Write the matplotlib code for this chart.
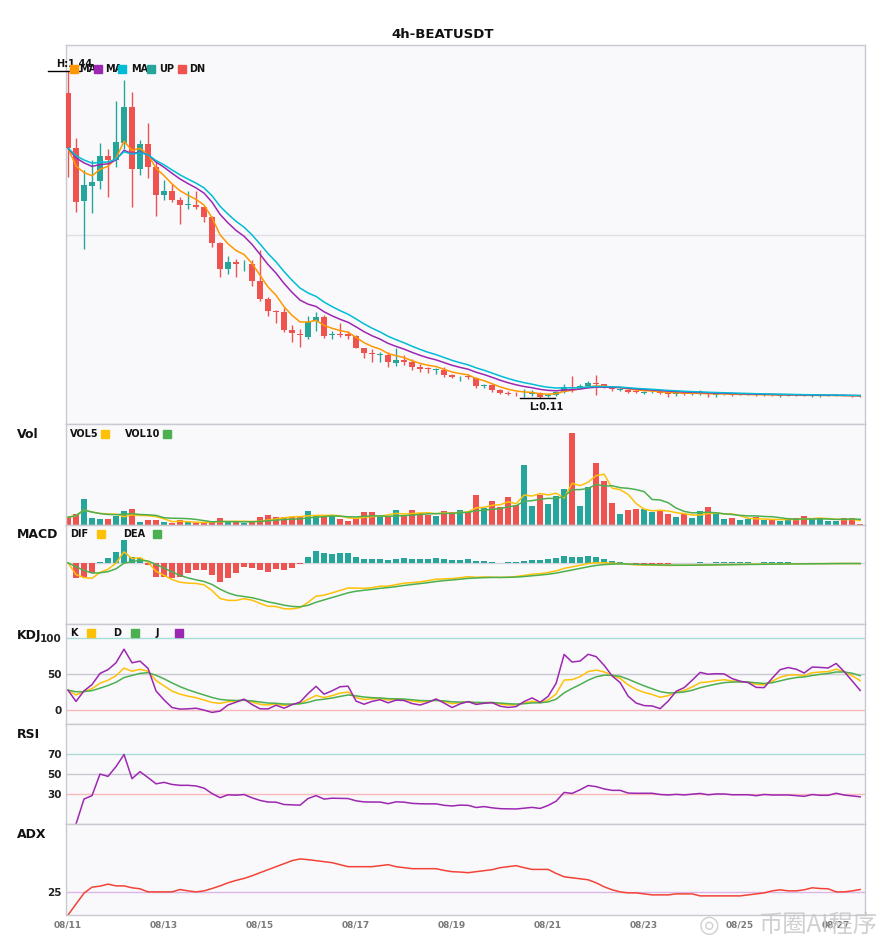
import numpy as np
import pandas as pd
import matplotlib
matplotlib.use("Agg")
import matplotlib.pyplot as plt
from matplotlib.patches import Rectangle

plt.rcParams['font.family'] = ['DejaVu Sans', 'Noto Sans CJK SC']

title = "4h-BEATUSDT"
tick_dates = ["08/11", "08/13", "08/15", "08/17", "08/19", "08/21", "08/23", "08/25", "08/27"]
tick_index = [0, 12, 24, 36, 48, 60, 72, 84, 96]

opens = [1.349, 1.127, 0.911, 0.971, 0.992, 1.093, 1.077, 1.147, 1.294, 1.043,
         1.142, 1.050, 0.934, 0.954, 0.914, 0.895, 0.897, 0.886, 0.848, 0.740,
         0.635, 0.665, 0.658, 0.655, 0.587, 0.513, 0.465, 0.461, 0.387, 0.370,
         0.359, 0.424, 0.440, 0.364, 0.370, 0.370, 0.363, 0.313, 0.291, 0.285,
         0.285, 0.250, 0.265, 0.258, 0.236, 0.231, 0.224, 0.223, 0.204, 0.193,
         0.200, 0.190, 0.159, 0.163, 0.143, 0.129, 0.126, 0.124, 0.125, 0.128,
         0.117, 0.121, 0.134, 0.156, 0.152, 0.159, 0.168, 0.166, 0.152, 0.144,
         0.144, 0.138, 0.131, 0.132, 0.132, 0.130, 0.126, 0.128, 0.126, 0.126,
         0.128, 0.123, 0.124, 0.125, 0.122, 0.122, 0.122, 0.121, 0.122, 0.119,
         0.119, 0.121, 0.121, 0.118, 0.117, 0.118, 0.118, 0.120, 0.118, 0.117]
highs = [1.440, 1.168, 1.036, 1.077, 1.149, 1.125, 1.318, 1.403, 1.356, 1.158,
         1.227, 1.077, 0.995, 0.982, 0.927, 0.954, 0.954, 0.893, 0.852, 0.744,
         0.689, 0.676, 0.672, 0.672, 0.710, 0.522, 0.468, 0.476, 0.407, 0.390,
         0.444, 0.458, 0.449, 0.383, 0.413, 0.383, 0.366, 0.315, 0.309, 0.295,
         0.295, 0.313, 0.285, 0.268, 0.247, 0.234, 0.231, 0.236, 0.207, 0.200,
         0.207, 0.193, 0.168, 0.166, 0.145, 0.138, 0.132, 0.145, 0.141, 0.132,
         0.125, 0.138, 0.166, 0.200, 0.168, 0.179, 0.204, 0.168, 0.155, 0.152,
         0.145, 0.142, 0.138, 0.140, 0.138, 0.132, 0.131, 0.130, 0.131, 0.140,
         0.129, 0.127, 0.127, 0.126, 0.125, 0.124, 0.124, 0.124, 0.123, 0.122,
         0.123, 0.124, 0.124, 0.121, 0.121, 0.121, 0.121, 0.122, 0.120, 0.118]
lows = [1.009, 0.866, 0.717, 0.862, 0.961, 0.927, 1.050, 1.125, 0.886, 1.016,
        1.006, 0.852, 0.914, 0.907, 0.819, 0.880, 0.880, 0.825, 0.723, 0.604,
        0.615, 0.601, 0.625, 0.567, 0.506, 0.444, 0.413, 0.380, 0.336, 0.319,
        0.349, 0.383, 0.353, 0.349, 0.356, 0.349, 0.313, 0.274, 0.254, 0.258,
        0.234, 0.240, 0.244, 0.223, 0.217, 0.213, 0.209, 0.196, 0.190, 0.179,
        0.186, 0.152, 0.152, 0.132, 0.125, 0.121, 0.118, 0.112, 0.118, 0.110,
        0.114, 0.117, 0.128, 0.132, 0.145, 0.155, 0.121, 0.149, 0.138, 0.138,
        0.128, 0.129, 0.125, 0.128, 0.127, 0.114, 0.118, 0.121, 0.121, 0.123,
        0.113, 0.113, 0.121, 0.117, 0.120, 0.120, 0.117, 0.119, 0.118, 0.114,
        0.117, 0.118, 0.117, 0.115, 0.113, 0.116, 0.117, 0.116, 0.113, 0.114]
closes = [1.127, 0.907, 0.975, 0.987, 1.093, 1.077, 1.150, 1.294, 1.043, 1.142,
          1.050, 0.934, 0.954, 0.914, 0.897, 0.897, 0.886, 0.848, 0.740, 0.635,
          0.664, 0.655, 0.661, 0.584, 0.513, 0.465, 0.461, 0.387, 0.376, 0.366,
          0.417, 0.440, 0.363, 0.370, 0.366, 0.363, 0.315, 0.291, 0.288, 0.288,
          0.254, 0.264, 0.258, 0.236, 0.229, 0.227, 0.227, 0.204, 0.193, 0.196,
          0.193, 0.159, 0.162, 0.143, 0.129, 0.126, 0.124, 0.126, 0.128, 0.115,
          0.122, 0.132, 0.155, 0.149, 0.159, 0.171, 0.166, 0.155, 0.148, 0.148,
          0.135, 0.134, 0.134, 0.134, 0.129, 0.127, 0.128, 0.126, 0.127, 0.128,
          0.124, 0.125, 0.125, 0.123, 0.123, 0.123, 0.121, 0.122, 0.121, 0.121,
          0.121, 0.120, 0.119, 0.120, 0.119, 0.119, 0.120, 0.118, 0.117, 0.116]
volumes = [7.7, 10.7, 26.0, 6.7, 5.7, 5.7, 9.3, 13.7, 15.7, 2.7,
           4.7, 4.7, 2.7, 1.7, 4.7, 2.7, 1.7, 1.7, 3.7, 6.7,
           3.7, 2.7, 1.7, 2.7, 7.7, 9.7, 7.7, 7.7, 7.7, 8.7,
           13.7, 9.7, 7.7, 8.7, 5.7, 3.7, 6.7, 12.7, 12.7, 8.7,
           8.7, 14.7, 9.7, 14.7, 11.7, 9.7, 9.3, 14.3, 13.3, 15.3,
           12.7, 29.3, 16.7, 23.3, 17.7, 27.7, 20.0, 59.0, 18.7, 30.0,
           20.7, 28.7, 35.7, 90.7, 18.7, 37.7, 61.0, 43.0, 21.7, 10.7,
           14.7, 15.7, 15.7, 13.3, 13.7, 10.7, 7.7, 10.7, 6.7, 13.7,
           17.7, 10.7, 5.7, 6.7, 4.7, 5.7, 7.7, 4.7, 4.7, 3.7,
           6.7, 6.7, 8.7, 5.7, 6.7, 3.7, 3.7, 6.7, 6.7, 1.0]
adx_values = [0.0, 12.0, 24.0, 30.6, 31.7, 33.9, 32.0, 32.0, 29.9, 28.8,
              25.4, 25.4, 25.4, 25.4, 28.0, 26.5, 25.4, 26.5, 29.1, 32.0,
              35.4, 38.0, 40.2, 43.1, 46.5, 49.8, 53.1, 56.4, 59.7, 61.6,
              60.8, 59.7, 58.6, 57.5, 55.3, 53.1, 53.1, 53.1, 53.1, 54.2,
              55.3, 53.1, 52.0, 50.9, 50.9, 50.9, 50.9, 49.0, 47.6, 47.2,
              46.5, 47.6, 48.7, 49.8, 52.0, 53.1, 54.2, 52.0, 50.1, 50.1,
              50.1, 45.7, 42.0, 40.9, 39.8, 38.7, 35.4, 31.0, 27.7, 25.4,
              24.3, 24.3, 23.2, 22.1, 22.1, 22.1, 23.2, 23.2, 23.2, 21.0,
              21.0, 21.0, 21.0, 21.0, 21.0, 22.1, 23.2, 24.3, 26.5, 27.7,
              26.5, 26.5, 27.7, 29.9, 29.1, 28.8, 25.4, 25.4, 26.5, 28.0]

UP, DN = '#26a69a', '#ef5350'
C_MA5, C_MA10, C_MA20 = '#ff9800', '#9c27b0', '#00bcd4'
C_Y, C_G, C_P = '#ffc107', '#4caf50', '#9c27b0'
BG = '#f9f9fc'
BORDER = '#c9c9d2'

o = np.array(opens); h = np.array(highs); l = np.array(lows); c = np.array(closes)
v = np.array(volumes)
n = len(c)
x = np.arange(n)
up = c >= o
cols = np.where(up, UP, DN)
cs = pd.Series(c)

# indicators derived from the candles
ma5 = cs.ewm(span=5, adjust=False).mean()
ma10 = cs.ewm(span=10, adjust=False).mean()
ma20 = cs.ewm(span=13, adjust=False).mean()
vs = pd.Series(v)
vol5 = vs.rolling(5, min_periods=1).mean()
vol10 = vs.rolling(10, min_periods=1).mean()
dif = cs.ewm(span=6, adjust=False).mean() - cs.ewm(span=13, adjust=False).mean()
dea = dif.ewm(span=5, adjust=False).mean()
hist = 2 * (dif - dea)
hs, ls = pd.Series(h), pd.Series(l)
llv = ls.rolling(9, min_periods=1).min()
hhv = hs.rolling(9, min_periods=1).max()
rsv = (cs - llv) / (hhv - llv) * 100
K = rsv.ewm(com=2, adjust=False).mean()
D = K.ewm(com=2, adjust=False).mean()
J = 3 * K - 2 * D
dlt = cs.diff()
gain = dlt.clip(lower=0)
loss = (-dlt).clip(lower=0)
ag = gain.ewm(alpha=1/14, adjust=True).mean()
al = loss.ewm(alpha=1/14, adjust=True).mean()
rsi = 100 * ag / (ag + al)
adx = np.array(adx_values)

FW, FH = 885, 950
fig = plt.figure(figsize=(FW / 100, FH / 100), dpi=100)
fig.patch.set_facecolor('white')
LEFT, RIGHT = 66, 865


def add_panel(top, bot):
    ax = fig.add_axes([LEFT / FW, 1 - bot / FH, (RIGHT - LEFT) / FW, (bot - top) / FH])
    ax.set_facecolor(BG)
    for s in ax.spines.values():
        s.set_color(BORDER)
        s.set_linewidth(1.0)
    ax.set_xlim(-0.25, n - 0.4)
    ax.set_xticks([])
    ax.set_yticks([])
    ax.tick_params(axis='y', length=0, pad=3, labelsize=7.5, labelcolor='#222222')
    return ax


def fx(px):
    return px / FW


def fy(py):
    return 1 - py / FH


def square(px, py, color):
    fig.patches.append(Rectangle((fx(px), fy(py + 4)), 8 / FW, 8 / FH,
                                 transform=fig.transFigure, color=color, zorder=10))


def ftext(px, py, s, size=7, **kw):
    fig.text(fx(px), fy(py), s, fontsize=size, fontweight='bold', va='center', ha='left',
             color=kw.pop('color', '#111111'), **kw)


fig.text(0.5, fy(34), title, ha='center', va='center', fontsize=9.5, fontweight='bold', color='#111111')

# ---------- price ----------
axp = add_panel(45, 424)
hmax, lmin = h.max(), l.min()
pad = (hmax - lmin) * 0.08
plo, phi = lmin - pad, hmax + pad
axp.set_ylim(plo, phi)
axp.axhline((plo + phi) / 2, color='#dedee6', lw=1.0, zorder=0)
axp.vlines(x, l, h, colors=cols, lw=1.0, zorder=2)
body = np.maximum(np.abs(c - o), 0.0025)
axp.bar(x, body, bottom=np.minimum(o, c), width=0.72, color=cols, zorder=3)
axp.plot(x, ma5, color=C_MA5, lw=1.1, zorder=4)
axp.plot(x, ma10, color=C_MA10, lw=1.1, zorder=4)
axp.plot(x, ma20, color=C_MA20, lw=1.1, zorder=4)
ih, il = int(np.argmax(h)), int(np.argmin(l))
axp.plot([ih - 2.5, ih + 1.5], [hmax, hmax], color='black', lw=1.0, clip_on=False, zorder=6)
axp.annotate(f"H:{hmax:.2f}", xy=(ih, hmax), xytext=(-12, 2), textcoords='offset pixels',
             ha='left', va='bottom', fontsize=7, fontweight='bold', color='#111111',
             annotation_clip=False, zorder=6)
axp.plot([il - 2.5, il + 1.8], [lmin, lmin], color='black', lw=1.0, clip_on=False, zorder=6)
axp.annotate(f"L:{lmin:.2f}", xy=(il, lmin), xytext=(-11, -4), textcoords='offset pixels',
             ha='left', va='top', fontsize=7, fontweight='bold', color='#111111',
             annotation_clip=False, zorder=6)
for px_, col, lab, tx in [(70, C_MA5, "MA", 79), (94, C_MA10, "MA", 105), (118, C_MA20, "MA", 131),
                          (147, UP, "UP", 159), (178, DN, "DN", 189)]:
    square(px_, 69, col)
    ftext(tx, 69, lab)

# ---------- volume ----------
axv = add_panel(424, 525)
axv.bar(x, v, width=0.7, color=cols, zorder=2)
axv.plot(x, vol5, color=C_Y, lw=1.1, zorder=3)
axv.plot(x, vol10, color=C_G, lw=1.1, zorder=3)
axv.set_ylim(0, v.max() * 1.10)
ftext(70, 434, "VOL5"); square(101, 434, C_Y)
ftext(125, 434, "VOL10"); square(163, 434, C_G)
ftext(17, 435, "Vol", size=9)

# ---------- MACD ----------
axm = add_panel(525, 624)
axm.axhline(0, color='#d4d4dc', lw=1.0, zorder=0)
axm.bar(x, hist, width=0.7, color=np.where(hist >= 0, UP, DN), zorder=2)
axm.plot(x, dif, color=C_Y, lw=1.1, zorder=3)
axm.plot(x, dea, color=C_G, lw=1.1, zorder=3)
mn = min(dif.min(), dea.min(), hist.min()); mx = max(dif.max(), dea.max(), hist.max())
rg = mx - mn
axm.set_ylim(mn - 0.22 * rg, mx + 0.22 * rg)
ftext(70, 534, "DIF"); square(97, 534, C_Y)
ftext(123, 534, "DEA"); square(153, 534, C_G)
ftext(17, 535, "MACD", size=9)

# ---------- KDJ ----------
axk = add_panel(624, 724)
axk.set_ylim(-20, 120)
axk.axhline(100, color='#a8dcd6', lw=1.0, zorder=0)
axk.axhline(50, color='#c9c9d2', lw=1.0, zorder=0)
axk.axhline(0, color='#f6b8b8', lw=1.0, zorder=0)
axk.plot(x, K, color=C_Y, lw=1.1)
axk.plot(x, D, color=C_G, lw=1.1)
axk.plot(x, J, color=C_P, lw=1.1)
axk.set_yticks([0, 50, 100])
axk.set_yticklabels(["0", "50", "100"], fontweight='bold')
ftext(70, 633, "K"); square(87, 633, C_Y)
ftext(113, 633, "D"); square(131, 633, C_G)
ftext(156, 633, "J"); square(175, 633, C_P)
ftext(17, 635, "KDJ", size=9)

# ---------- RSI ----------
axr = add_panel(724, 824)
axr.set_ylim(0, 100)
axr.axhline(70, color='#a8dcd6', lw=1.0, zorder=0)
axr.axhline(50, color='#c9c9d2', lw=1.0, zorder=0)
axr.axhline(30, color='#f6b8b8', lw=1.0, zorder=0)
axr.plot(x, rsi, color=C_P, lw=1.1, clip_on=False)
axr.set_yticks([30, 50, 70])
axr.set_yticklabels(["30", "50", "70"], fontweight='bold')
ftext(17, 735, "RSI", size=9)

# ---------- ADX ----------
axa = add_panel(824, 915)
axa.set_ylim(0, 100)
axa.axhline(25, color='#dcb6e6', lw=1.0, zorder=0)
axa.plot(x, adx, color='#f44336', lw=1.1)
axa.set_yticks([25])
axa.set_yticklabels(["25"], fontweight='bold')
axa.set_xticks(tick_index)
axa.set_xticklabels(tick_dates, fontsize=6.5, fontweight='bold', color='#7a7a7a')
axa.tick_params(axis='x', length=0, pad=4)
ftext(17, 835, "ADX", size=9)

fig.text(fx(699), fy(925), "◎", fontsize=17, color='#c8c8c8', alpha=0.85,
         va='center', ha='left', family=['DejaVu Sans'])
fig.text(fx(758), fy(925), "币圈AI程序", fontsize=17.5, color='#c8c8c8', alpha=0.85,
         va='center', ha='left', family=['Noto Sans CJK SC', 'DejaVu Sans'])

fig.savefig("out.png", dpi=100, facecolor='white')
